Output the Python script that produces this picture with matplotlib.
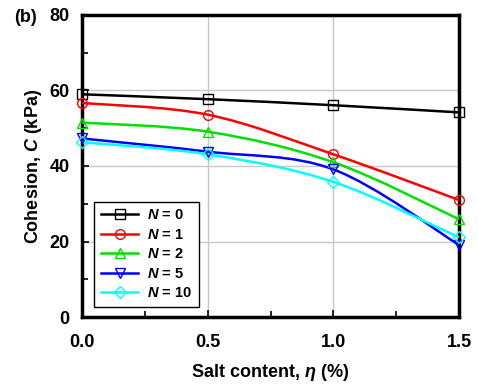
import matplotlib

matplotlib.use("Agg")
import matplotlib.pyplot as plt  # noqa: E402
import numpy as np  # noqa: E402
from matplotlib.path import Path  # noqa: E402
from matplotlib.patches import PathPatch  # noqa: E402
from matplotlib.lines import Line2D  # noqa: E402

plt.rcParams["font.family"] = ["Liberation Sans", "DejaVu Sans"]
plt.rcParams["font.weight"] = "bold"
plt.rcParams["axes.labelweight"] = "bold"
plt.rcParams["mathtext.fontset"] = "custom"
plt.rcParams["mathtext.rm"] = "Liberation Sans:bold"
plt.rcParams["mathtext.it"] = "Liberation Sans:italic:bold"
plt.rcParams["mathtext.bf"] = "Liberation Sans:bold"

# salt content (%)
salt = [0.0, 0.5, 1.0, 1.5]
# cohesion C (kPa) for each number of freeze-thaw cycles N
c_n0 = [59.0, 57.7, 56.1, 54.2]
c_n1 = [56.7, 53.6, 43.1, 31.0]
c_n2 = [51.5, 49.1, 41.0, 25.9]
c_n5 = [47.3, 43.8, 39.1, 19.1]
c_n10 = [46.3, 43.1, 35.8, 21.1]

series = [
    ("0", c_n0, "black", "s"),
    ("1", c_n1, "red", "o"),
    ("2", c_n2, "#00e000", "^"),
    ("5", c_n5, "#0000ff", "v"),
    ("10", c_n10, "cyan", "D"),
]


def smooth_path(x, y):
    """Excel 風の滑らかな曲線（点を通る Bezier）."""
    p = np.column_stack([x, y]).astype(float)
    n = len(p)
    verts = [p[0]]
    codes = [Path.MOVETO]
    for i in range(n - 1):
        p0 = p[i - 1] if i > 0 else p[i]
        p3 = p[i + 2] if i + 2 < n else p[i + 1]
        c1 = p[i] + (p[i + 1] - p0) / 6
        c2 = p[i + 1] - (p3 - p[i]) / 6
        verts += [c1, c2, p[i + 1]]
        codes += [Path.CURVE4] * 3
    return Path(verts, codes)


fig = plt.figure(figsize=(4.78, 3.85), dpi=100)
ax = fig.add_axes([82 / 478, 68 / 385, 377 / 478, 302 / 385])

for label, vals, color, mk in series:
    ax.add_patch(PathPatch(smooth_path(salt, vals), fill=False,
                           edgecolor=color, lw=1.8, zorder=3))
    ax.plot(salt, vals, ls="none", marker=mk, mfc="none", mec=color,
            ms=7 if mk != "D" else 6, mew=1.0, zorder=4, clip_on=False)

ax.set_xlim(0, 1.5)
ax.set_ylim(0, 80)
ax.set_xticks([0.0, 0.5, 1.0, 1.5])
ax.set_xticklabels(["0.0", "0.5", "1.0", "1.5"])
ax.set_xticks([0.25, 0.75, 1.25], minor=True)
ax.set_yticks([0, 20, 40, 60, 80])
ax.set_yticks([10, 30, 50, 70], minor=True)
ax.grid(True, which="major", color="#c8c8c8", lw=1.0, zorder=0)
ax.tick_params(which="both", direction="in", labelsize=13, width=1.2)
ax.tick_params(which="major", length=5, pad=9)
ax.tick_params(which="minor", length=4)
ax.tick_params(axis="x", which="major", pad=12)
for s in ax.spines.values():
    s.set_linewidth(2.5)

ax.set_xlabel(r"Salt content, $\eta$ (%)", fontsize=13, labelpad=8)
ax.set_ylabel(r"Cohesion, $C$ (kPa)", fontsize=13, labelpad=4)
fig.text(14 / 478, 1 - 17 / 385, "(b)", fontsize=13, fontweight="bold",
         va="center", ha="left")

handles = [
    Line2D([], [], color=c, lw=1.8, marker=mk, mfc="none", mec=c,
           ms=7 if mk != "D" else 6, mew=1.0)
    for _, _, c, mk in series
]
leg = ax.legend(handles, [rf"$N$ = {lab}" for lab, _, _, _ in series],
                loc="lower left", bbox_to_anchor=(12 / 377, 10 / 302),
                borderaxespad=0, fontsize=10.5,
                handlelength=2.6, handletextpad=0.6, labelspacing=0.38,
                borderpad=0.45, fancybox=False, framealpha=1,
                edgecolor="black")
leg.get_frame().set_linewidth(1.0)

fig.savefig("out.png", dpi=100)
